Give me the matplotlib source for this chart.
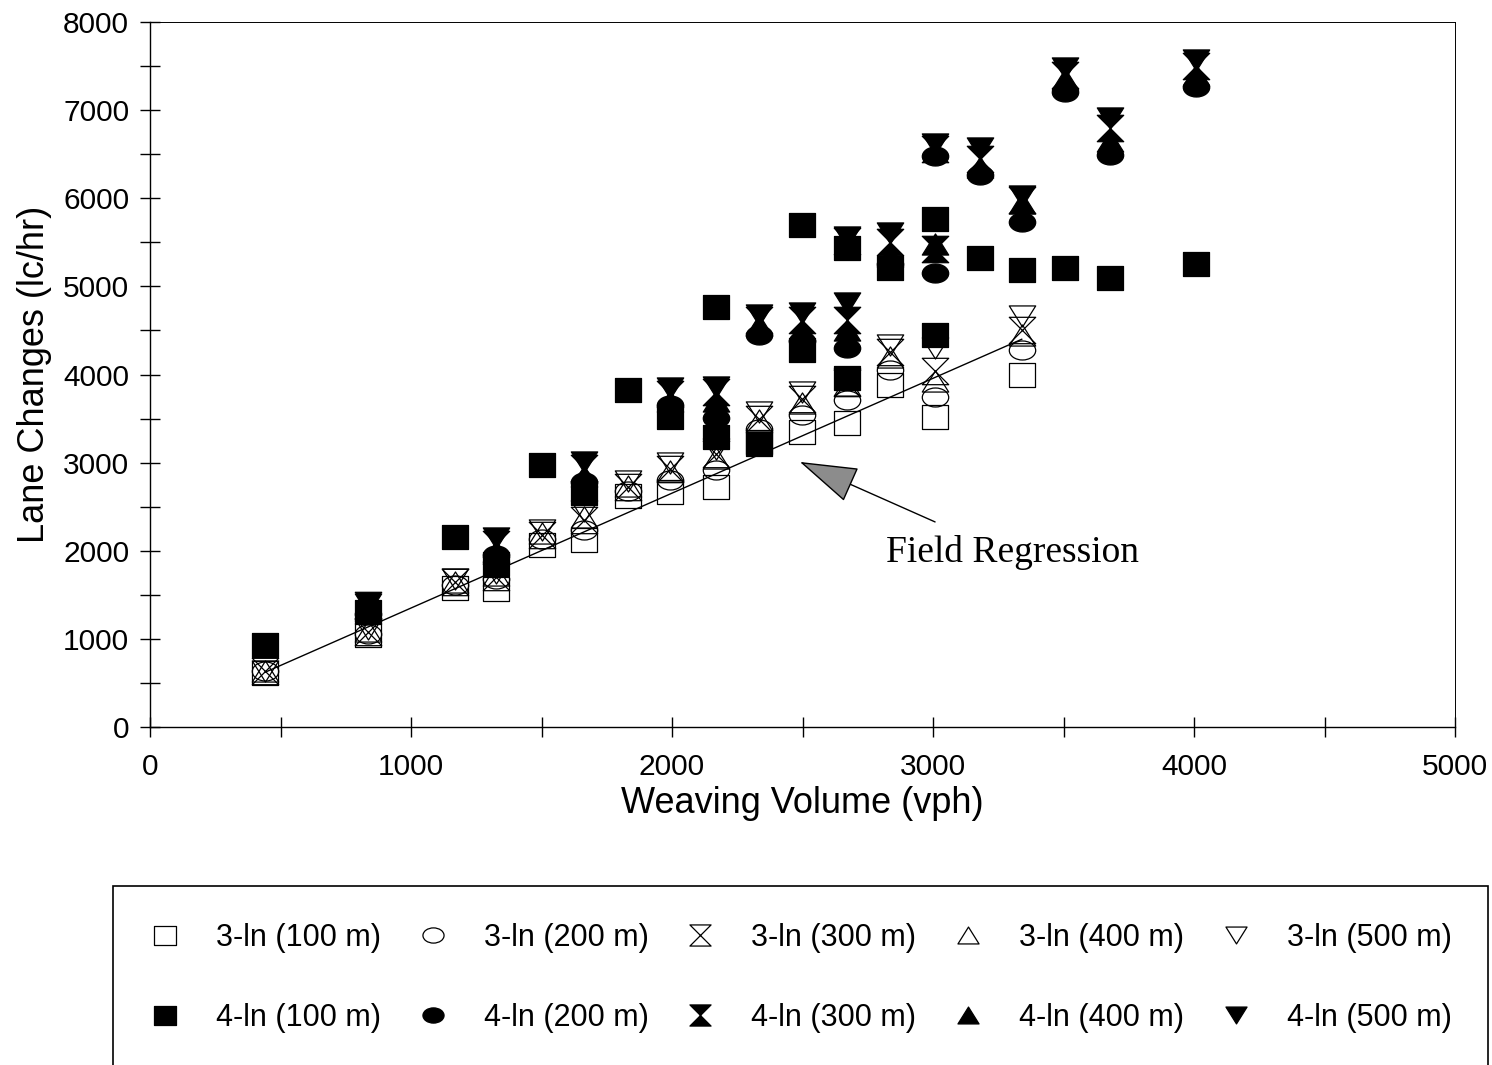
import numpy as np
import matplotlib
matplotlib.use("Agg")
import matplotlib.pyplot as plt
from matplotlib.path import Path
from matplotlib.patches import Rectangle

plt.rcParams['font.family'] = ['Liberation Sans', 'DejaVu Sans']

# 3-lane sections (open markers), weaving volume (vph)
vol_3ln = [440, 835, 1170, 1326, 1500, 1663, 1831, 1992, 2169, 2333, 2498, 2670, 2835, 3008, 3341]
lc_3ln_100 = [610, 1040, 1580, 1570, 2070, 2120, 2620, 2670, 2720, 3230, 3350, 3450, 3880, 3520, 4000]
lc_3ln_200 = [630, 1060, 1610, 1680, 2130, 2230, 2680, 2800, 2920, 3380, 3540, 3710, 4050, 3750, 4280]
lc_3ln_300 = [630, 1080, 1640, 1700, 2180, 2350, 2720, 2930, 3100, 3500, 3720, 3900, 4250, 4040, 4500]
lc_3ln_400 = [640, 1090, 1650, 1720, 2200, 2380, 2740, 2900, 3050, 3480, 3680, 3880, 4200, 3930, 4450]
lc_3ln_500 = [640, 1110, 1680, 1750, 2240, 2450, 2790, 3000, 3150, 3575, 3800, 3950, 4340, 4300, 4660]

# 4-lane sections (filled markers)
vol_4ln_100 = [440, 835, 1170, 1326, 1500, 1663, 1831, 1992, 2169, 2169, 2333, 2498, 2498,
               2670, 2670, 2835, 3008, 3008, 3180, 3341, 3506, 3678, 4008]
lc_4ln_100 = [930, 1300, 2160, 1850, 2975, 2650, 3825, 3520, 4770, 3290, 3210, 5700, 4280,
              5440, 3960, 5210, 5770, 4450, 5320, 5190, 5210, 5100, 5250]
vol_4ln_200 = [835, 1326, 1663, 1992, 2169, 2333, 2498, 2670, 2835, 3008, 3008, 3180, 3341,
               3506, 3678, 4008]
lc_4ln_200 = [1280, 1950, 2780, 3650, 3510, 4450, 4380, 4300, 5250, 6480, 5150, 6260, 5730,
              7210, 6490, 7260]
vol_4ln_300 = [835, 1326, 1663, 1992, 2169, 2333, 2498, 2670, 2670, 2835, 3008, 3008, 3180,
               3341, 3506, 3678, 4008]
lc_4ln_300 = [1380, 2080, 2940, 3780, 3800, 4620, 4620, 4620, 5520, 5500, 6560, 5420, 6450,
              5980, 7400, 6800, 7500]
vol_4ln_400 = [835, 1326, 1663, 1992, 2169, 2333, 2498, 2670, 2835, 3008, 3180, 3341, 3506,
               3678, 4008]
lc_4ln_400 = [1330, 2000, 2850, 3700, 3700, 4560, 4500, 4500, 5350, 5480, 6350, 5950, 7350,
              6650, 7400]
vol_4ln_500 = [835, 1326, 1663, 1992, 2169, 2333, 2498, 2670, 2670, 2835, 3008, 3180, 3341,
               3506, 3678, 4008]
lc_4ln_500 = [1400, 2150, 3010, 3850, 3860, 4680, 4700, 4810, 5560, 5610, 6620, 6570, 6020,
              7480, 6910, 7570]

# Field regression line end points
reg_vol = [440, 3340]
reg_lc = [620, 4400]

lengths = ['100 m', '200 m', '300 m', '400 m', '500 m']

# Marker shapes
sq = Path([(-1, -0.9), (1, -0.9), (1, 0.9), (-1, 0.9), (-1, -0.9)], closed=True)
circ = Path.unit_circle()
ell = Path(circ.vertices * np.array([1.0, 0.72]), circ.codes)
hour = Path([(-1, 1), (1, 1), (-1, -1), (1, -1), (-1, 1)], closed=True)
tri_up = Path([(0, 0.8), (-1, -0.8), (1, -0.8), (0, 0.8)], closed=True)
tri_dn = Path([(0, -0.8), (-1, 0.8), (1, 0.8), (0, -0.8)], closed=True)
shapes = [sq, ell, hour, tri_up, tri_dn]

fig = plt.figure(figsize=(14.92, 10.65), dpi=100)
ax = fig.add_axes([150/1492, 1 - 727/1065, 1305/1492, 705/1065])

h3 = []
for lc, mk, lab in zip([lc_3ln_100, lc_3ln_200, lc_3ln_300, lc_3ln_400, lc_3ln_500], shapes, lengths):
    ln, = ax.plot(vol_3ln, lc, ls='none', marker=mk, ms=19, mfc='none', mec='black',
                  mew=0.9, label=f'3-ln ({lab})')
    h3.append(ln)

ax.plot(reg_vol, reg_lc, color='black', lw=1.0)

h4 = []
vols4 = [vol_4ln_100, vol_4ln_200, vol_4ln_300, vol_4ln_400, vol_4ln_500]
lcs4 = [lc_4ln_100, lc_4ln_200, lc_4ln_300, lc_4ln_400, lc_4ln_500]
for v, lc, mk, lab in zip(vols4, lcs4, shapes, lengths):
    ln, = ax.plot(v, lc, ls='none', marker=mk, ms=19, mfc='black', mec='black',
                  mew=0.9, label=f'4-ln ({lab})')
    h4.append(ln)

ax.set_xlim(0, 5000)
ax.set_ylim(0, 8000)
ax.set_xticks(np.arange(0, 5001, 1000))
ax.set_yticks(np.arange(0, 8001, 1000))
ax.set_xticks(np.arange(500, 5000, 1000), minor=True)
ax.set_yticks(np.arange(500, 8000, 1000), minor=True)
ax.tick_params(which='both', direction='inout', length=14, width=1, labelsize=21.5)
ax.tick_params(axis='x', pad=12)
ax.tick_params(axis='y', pad=8)
for s in ax.spines.values():
    s.set_linewidth(1.0)
ax.spines['top'].set_linewidth(0.7)
ax.spines['right'].set_linewidth(0.7)

ax.set_xlabel('Weaving Volume (vph)', fontsize=26, labelpad=3)
ax.set_ylabel('Lane Changes (lc/hr)', fontsize=26, labelpad=8)

ax.text(3303, 1975, 'Field Regression', family='Liberation Serif', fontsize=27,
        ha='center', va='center')
ax.annotate('', xy=(2490, 3008), xytext=(3008, 2327),
            arrowprops=dict(arrowstyle='-|>,head_length=1.9,head_width=0.6',
                            mutation_scale=20, fc='0.55', ec='black', lw=1,
                            shrinkA=0, shrinkB=0))

# legend laid out row-wise: 3-ln on top row, 4-ln on bottom row
handles = []
for a, b in zip(h3, h4):
    handles += [a, b]
fig.legend(handles=handles, ncol=5, loc='upper left',
           bbox_to_anchor=(150/1492, 1 - 923/1065), frameon=False, fontsize=22,
           markerscale=0.8, handlelength=1.0, handletextpad=1.16,
           columnspacing=1.2, labelspacing=1.64, borderpad=0, borderaxespad=0)
fig.add_artist(Rectangle((113/1492, -0.1), (1488 - 113)/1492, (1065 - 886)/1065 + 0.1,
                         transform=fig.transFigure, fill=False, ec='black', lw=1.2))

fig.savefig('out.png', dpi=100)
